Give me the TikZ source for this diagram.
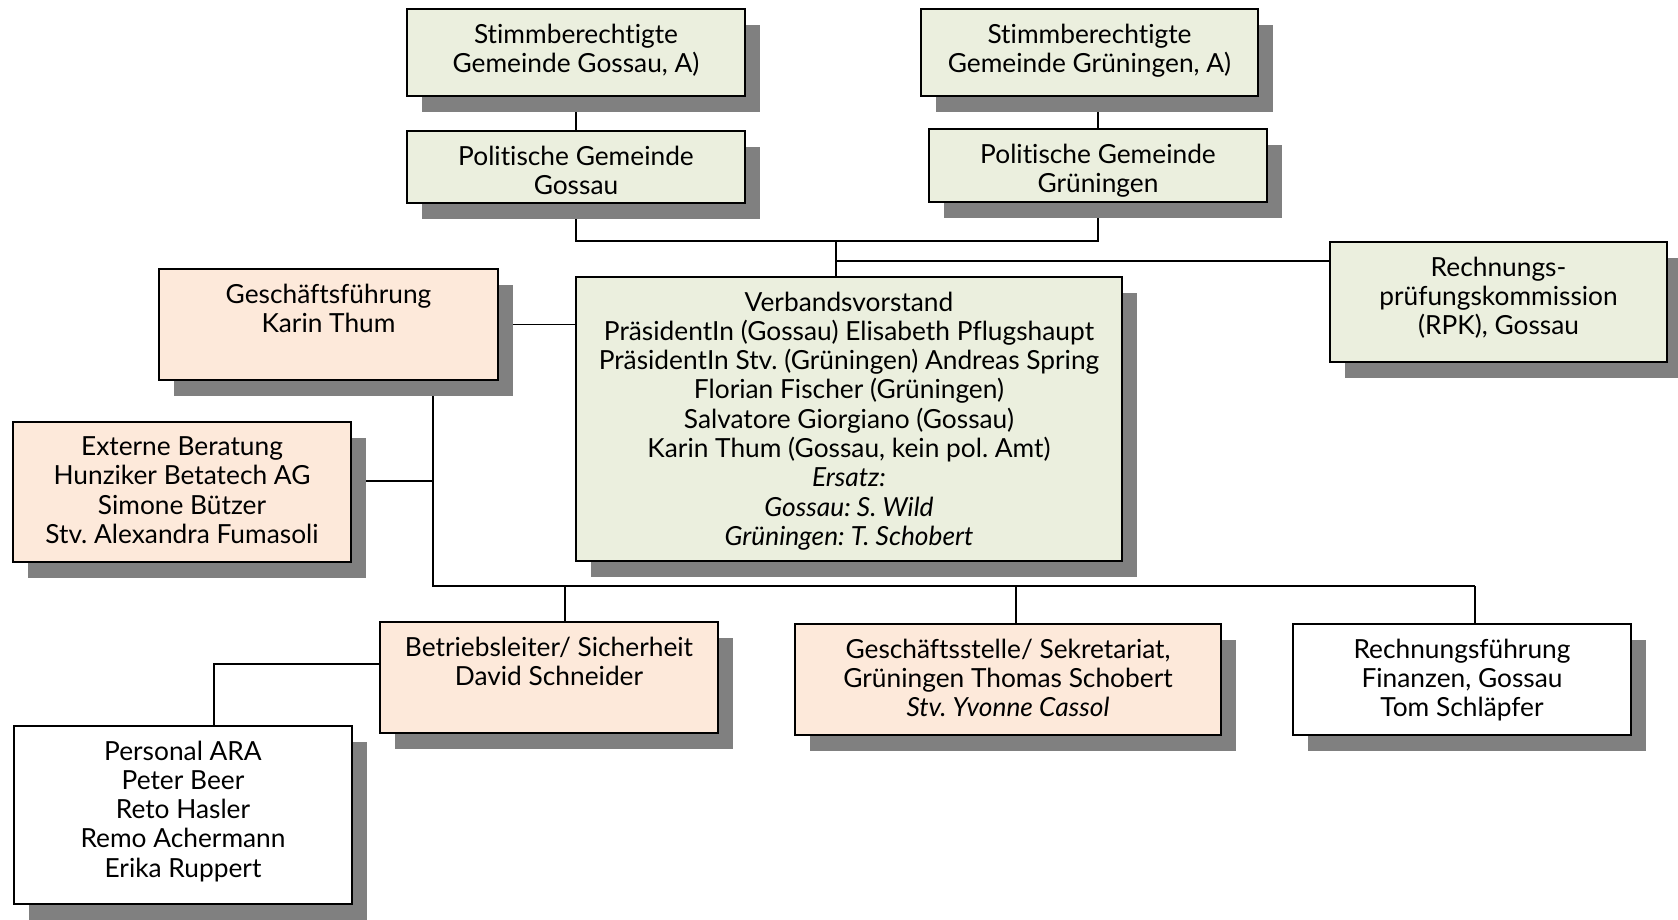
\documentclass[tikz,border=0pt]{standalone}
\usepackage{fontspec}
\setmainfont{Lato}[Ligatures={NoCommon}]
\frenchspacing
\usetikzlibrary{shadows,backgrounds}
\definecolor{boxgreen}{RGB}{235,239,222}
\definecolor{boxpeach}{RGB}{253,233,218}
\definecolor{shadowgray}{RGB}{128,128,128}
\tikzset{
  orgbox/.style={draw=black, line width=1.6pt, inner sep=0pt, outer sep=0pt,
    anchor=north west,
    drop shadow={shadow xshift=15pt, shadow yshift=-16pt, fill=shadowgray, opacity=1}},
  greenbox/.style={orgbox, fill=boxgreen},
  peachbox/.style={orgbox, fill=boxpeach},
  whitebox/.style={orgbox, fill=white},
  boxtext/.style={align=center, anchor=north, inner sep=0pt, yshift=-14.5pt,
    font=\fontsize{26.3}{29.3}\selectfont},
  conn/.style={draw=black, line width=1.4pt},
}
\begin{document}
\begin{tikzpicture}[x=1pt, y=-1pt]
\useasboundingbox (0,0) rectangle (1678,920);

% boxes
\node[greenbox, minimum width=338pt, minimum height=87pt] (sg) at (407,9) {};
\node[boxtext] (sgt) at (sg.north) {Stimmberechtigte\\Gemeinde Gossau, A)};

\node[greenbox, minimum width=338pt, minimum height=72pt] (pg) at (407,131) {};
\node[boxtext] (pgt) at (pg.north) {Politische Gemeinde\\Gossau};

\node[greenbox, minimum width=337pt, minimum height=87pt] (sr) at (921,9) {};
\node[boxtext] (srt) at (sr.north) {Stimmberechtigte\\Gemeinde Grüningen, A)};

\node[greenbox, minimum width=338pt, minimum height=73pt] (pr) at (929,129) {};
\node[boxtext] (prt) at (pr.north) {Politische Gemeinde\\Grüningen};

\node[greenbox, minimum width=337pt, minimum height=120pt] (rpk) at (1330,242) {};
\node[boxtext] (rpkt) at (rpk.north) {Rechnungs-\\prüfungskommission\\(RPK), Gossau};

\node[greenbox, minimum width=546pt, minimum height=284pt] (vv) at (576,277) {};
\node[boxtext] (vvt) at (vv.north) {Verbandsvorstand\\PräsidentIn (Gossau) Elisabeth Pflugshaupt\\PräsidentIn Stv. (Grüningen) Andreas Spring\\Florian Fischer (Grüningen)\\Salvatore Giorgiano (Gossau)\\Karin Thum (Gossau, kein pol. Amt)\\\textit{Ersatz:}\\\textit{Gossau: S. Wild}\\\textit{Grüningen: T. Schobert}};

\node[peachbox, minimum width=339pt, minimum height=111pt] (gf) at (159,269) {};
\node[boxtext] (gft) at (gf.north) {Geschäftsführung\\Karin Thum};

\node[peachbox, minimum width=338pt, minimum height=140pt] (eb) at (13,422) {};
\node[boxtext] (ebt) at (eb.north) {Externe Beratung\\Hunziker Betatech AG\\Simone Bützer\\Stv. Alexandra Fumasoli};

\node[peachbox, minimum width=338pt, minimum height=111pt] (bl) at (380,622) {};
\node[boxtext] (blt) at (bl.north) {Betriebsleiter/ Sicherheit\\David Schneider};

\node[peachbox, minimum width=426pt, minimum height=111pt] (gs) at (795,624) {};
\node[boxtext] (gst) at (gs.north) {Geschäftsstelle/ Sekretariat,\\Grüningen Thomas Schobert\\\textit{Stv. Yvonne Cassol}};

\node[whitebox, minimum width=338pt, minimum height=111pt] (rf) at (1293,624) {};
\node[boxtext] (rft) at (rf.north) {Rechnungsführung\\Finanzen, Gossau\\Tom Schläpfer};

\node[whitebox, minimum width=338pt, minimum height=178pt] (pa) at (14,726) {};
\node[boxtext] (pat) at (pa.north) {Personal ARA\\Peter Beer\\Reto Hasler\\Remo Achermann\\Erika Ruppert};

% junction coordinates
\coordinate (jtop) at (576,241);
\coordinate (jvv) at (836,241);
\coordinate (jrpk) at (836,261);
\coordinate (jgf) at (433,586);
\coordinate (jeb) at (433,481);
\coordinate (jbus) at (1475,586);
\coordinate (jbl) at (565,586);
\coordinate (jgs) at (1016,586);
\coordinate (jpa) at (214,664);

\begin{scope}[on background layer]
  \fill[white] (0,0) rectangle (1678,920);
  \draw[conn] (sg.south) -- (pg.north);
  \draw[conn] (pr.north) -- (pr.north |- sr.south);
  \draw[conn] (pg.south) -- (jtop) -| (pr.south);
  \draw[conn] (jvv) -- (jvv |- vv.north);
  \draw[conn] (jrpk) -- (jrpk -| rpk.west);
  \draw[conn] (gf.east) -- (gf.east -| vv.west);
  \draw[conn] (jgf |- gf.south) -- (jgf) -- (jbus);
  \draw[conn] (jeb) -- (jeb -| eb.east);
  \draw[conn] (jbl) -- (jbl |- bl.north);
  \draw[conn] (jgs) -- (jgs |- gs.north);
  \draw[conn] (jbus) -- (jbus |- rf.north);
  \draw[conn] (jpa -| bl.west) -- (jpa) -- (jpa |- pa.north);
\end{scope}
\end{tikzpicture}
\end{document}
